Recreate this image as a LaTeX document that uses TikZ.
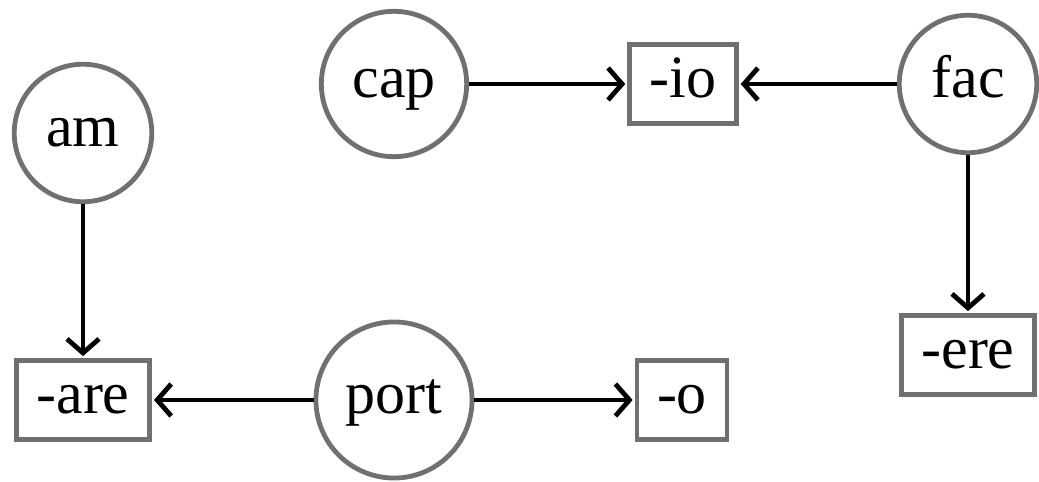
\documentclass[tikz,border=0pt]{standalone}
\usepackage{fontspec}
\setmainfont{Liberation Serif}
\usetikzlibrary{positioning, arrows.meta}

\definecolor{rimgray}{RGB}{112,112,112}

\begin{document}
\begin{tikzpicture}[>={Straight Barb[length=7pt,width=16pt]}, shorten >=1pt, on grid,
			line width=2.4pt, font=\fontsize{30}{36}\selectfont,
			root/.style={circle, draw=rimgray, inner sep=8pt, text height=21pt, text depth=7.5pt},
			suffix/.style={rectangle, draw=rimgray, inner xsep=10pt, inner ysep=0pt, minimum height=39.5pt, text height=21pt, text depth=7.5pt} ]
			\useasboundingbox (0,0) rectangle (519.5pt,241pt);
			\node[root]   (cap)                        at (197pt,199pt) {cap};
			\node[suffix] (io)  [right=144.5pt of cap] {-io};
			\node[root]   (fac) [right=142.5pt of io]  {fac};
			\node[suffix] (ere) [below=135.5pt of fac] {-ere};
			\node[root]   (port)[below=158pt of cap]   {port};
			\node[suffix] (are) [left=155.5pt of port] {-are};
			\node[root]   (am)  [above=133.5pt of are] {am};
			\node[suffix] (o)   [right=144pt of port]  {-o};
			
			%Ligações:
			\path[->]
			(cap)  edge (io)
			(fac)  edge (io)
			(fac)  edge (ere)
			(am)   edge (are)
			(port) edge (are)
			(port) edge (o);
		\end{tikzpicture}
\end{document}
